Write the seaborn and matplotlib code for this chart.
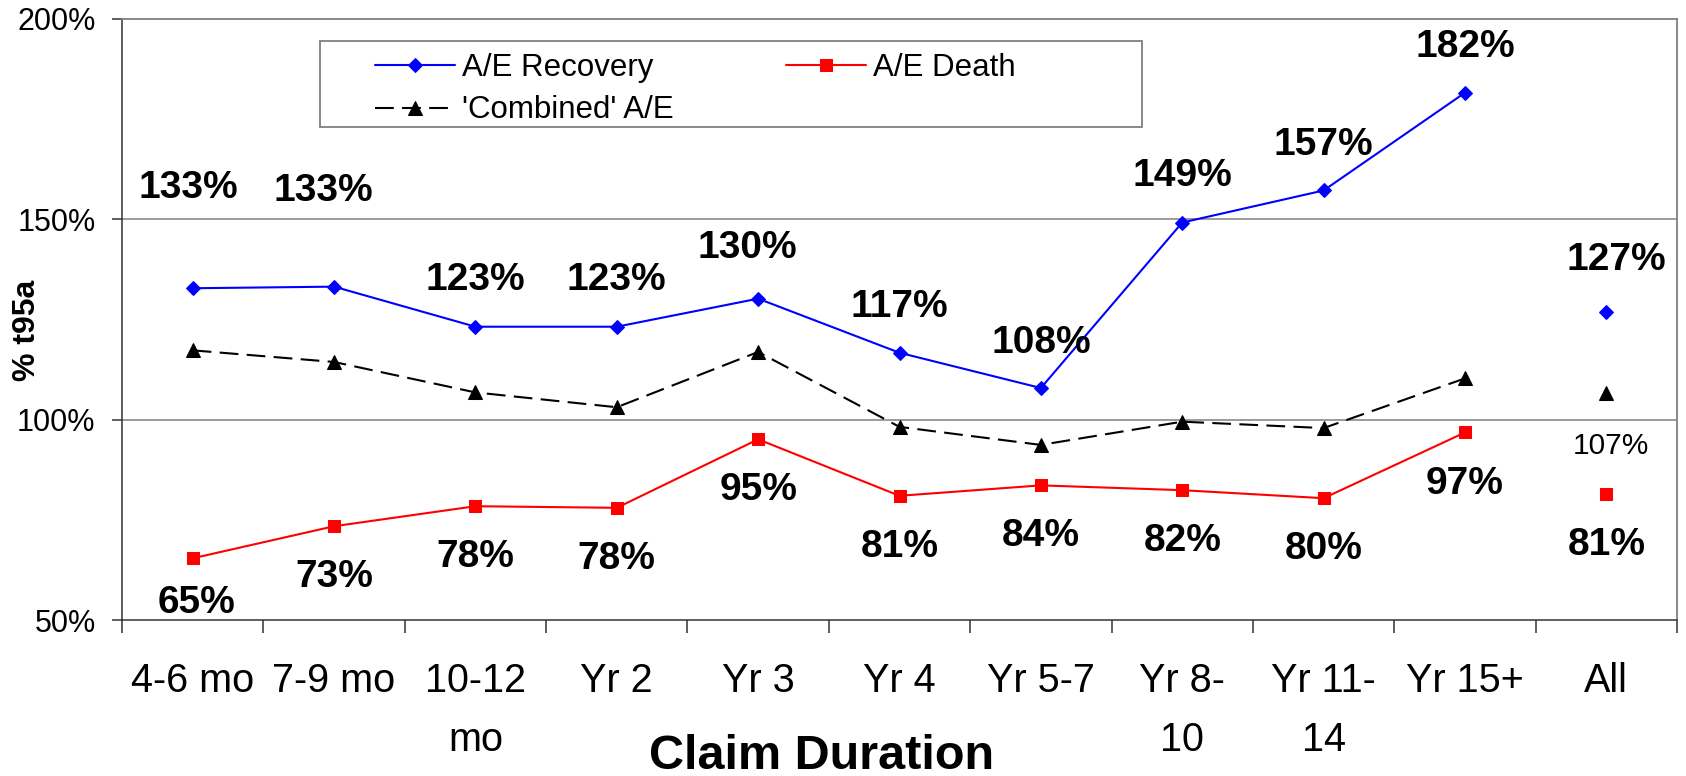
import numpy as np
import pandas as pd
import matplotlib
matplotlib.use("Agg")
import matplotlib.pyplot as plt
import seaborn as sns
from matplotlib.patches import Rectangle
from matplotlib.ticker import FixedLocator, FuncFormatter

# ---- data -------------------------------------------------------------
durations = ["4-6 mo", "7-9 mo", "10-12\nmo", "Yr 2", "Yr 3", "Yr 4",
             "Yr 5-7", "Yr 8-\n10", "Yr 11-\n14", "Yr 15+", "All"]
ae_recovery = [132.8, 133.2, 123.2, 123.2, 130.2, 116.7, 107.9, 149.2, 157.2, 181.6, 126.9]
ae_death = [65.4, 73.4, 78.4, 78.0, 95.1, 81.0, 83.6, 82.4, 80.4, 96.8, 81.4]
ae_combined = [117.3, 114.4, 106.8, 103.1, 116.9, 98.2, 93.7, 99.5, 97.9, 110.3, 106.7]
y_ticks = [50, 100, 150, 200]

# label offsets (points) relative to each marker: (dx, dy)
recovery_label_offsets = [(-3, 65), (-8, 62), (0, 26.5), (0, 26.5), (-8, 29.5), (0, 25.5),
                          (0, 25), (0, 26.5), (0, 25.5), (0, 26), (7, 30)]
death_label_offsets = [(3, -39.5)] + [(0, -44)] * 10

# ---- styling ----------------------------------------------------------
sns.set_theme(style="white")
plt.rcParams["font.family"] = ["Liberation Sans", "DejaVu Sans"]
plt.rcParams.update({"text.color": "black", "axes.labelcolor": "black",
                     "xtick.color": "black", "ytick.color": "black"})

W, H = 1686, 776
fig = plt.figure(figsize=(W / 100, H / 100), dpi=100)
left, right, top, bottom = 122, 1677, 19, 620
ax = fig.add_axes([left / W, 1 - bottom / H, (right - left) / W, (bottom - top) / H])

x = np.arange(len(durations))
df = pd.DataFrame({"pos": x, "recovery": ae_recovery, "death": ae_death,
                   "combined": ae_combined})
trend = df.iloc[:-1]
overall = df.iloc[-1:]

series = [
    ("recovery", "A/E Recovery", "#0000FF", "D", 7.6, "-"),
    ("combined", "'Combined' A/E", "#000000", "^", 10, (0, (9, 4))),
    ("death", "A/E Death", "#FF0000", "s", 8.6, "-"),
]
handles = []
for col, name, color, marker, ms, ls in series:
    sns.lineplot(data=trend, x="pos", y=col, ax=ax, color=color, marker=marker,
                 markersize=ms, markeredgecolor=color, markerfacecolor=color,
                 linewidth=1.5, linestyle=ls, label=name, legend=False, zorder=3)
    handles.append(ax.lines[-1])
    sns.lineplot(data=overall, x="pos", y=col, ax=ax, color=color, marker=marker,
                 markersize=ms, markeredgecolor=color, markerfacecolor=color,
                 linestyle="none", legend=False, zorder=3)

# ---- value labels -----------------------------------------------------
for i, (v, (dx, dy)) in enumerate(zip(ae_recovery, recovery_label_offsets)):
    ax.annotate(f"{v:.0f}%", xy=(x[i], v), xytext=(dx, dy), textcoords="offset points",
                ha="center", va="baseline", fontsize=28, fontweight="bold", color="black")
for i, (v, (dx, dy)) in enumerate(zip(ae_death, death_label_offsets)):
    ax.annotate(f"{v:.0f}%", xy=(x[i], v), xytext=(dx, dy), textcoords="offset points",
                ha="center", va="baseline", fontsize=28, fontweight="bold", color="black")
ax.annotate(f"{ae_combined[-1]:.0f}%", xy=(x[-1], ae_combined[-1]), xytext=(3, -44.4),
            textcoords="offset points", ha="center", va="baseline", fontsize=21.5,
            color="black")

# ---- axes -------------------------------------------------------------
ax.set_xlim(-0.5, len(durations) - 0.5)
ax.set_ylim(y_ticks[0], y_ticks[-1])
ax.yaxis.set_major_locator(FixedLocator(y_ticks))
ax.yaxis.set_major_formatter(FuncFormatter(lambda v, p: f"{v:.0f}%"))
ax.set_xticks(x)
ax.set_xticklabels(durations, fontsize=28.5, linespacing=1.7)
ax.set_xticks(np.arange(-0.5, len(durations)), minor=True)
ax.tick_params(axis="x", which="major", length=0, pad=30, colors="black")
ax.tick_params(axis="x", which="minor", length=9, width=1.1, color="#333333", direction="out")
ax.tick_params(axis="y", which="major", length=7, width=1.1, color="#333333",
               direction="out", pad=12, labelsize=22, labelcolor="black")
ax.tick_params(bottom=True, left=True, which="both")
ax.set_xlabel("")
ax.set_ylabel("")

ax.grid(False)
ax.set_axisbelow(True)
for yv in y_ticks[1:-1]:
    ax.axhline(yv, color="#808080", linewidth=1.1, zorder=1)

for side in ("left", "bottom"):
    ax.spines[side].set_color("#333333")
    ax.spines[side].set_linewidth(1.1)
for side in ("top", "right"):
    ax.spines[side].set_color("#808080")
    ax.spines[side].set_linewidth(1.3)

fig.text(822 / W, 1 - 769 / H, "Claim Duration", ha="center", va="baseline",
         fontsize=35, fontweight="bold", color="black")
fig.text(27 / W, 1 - 330 / H, "% t95a", ha="center", va="center", rotation=90,
         fontsize=23, fontweight="bold", color="black")

# ---- legend -----------------------------------------------------------
fig.patches.append(Rectangle((320 / W, 1 - 127 / H), (1142 - 320) / W, (127 - 41) / H,
                             transform=fig.transFigure, fill=False,
                             edgecolor="#808080", linewidth=1.3))
fig.legend(handles=handles, labels=[h.get_label() for h in handles], ncol=2,
           loc="upper left", bbox_to_anchor=(375 / W, 1 - 53 / H),
           bbox_transform=fig.transFigure, frameon=False, borderpad=0,
           fontsize=22.5, handlelength=2.55, handletextpad=0.23,
           columnspacing=3.6, labelspacing=0.40, borderaxespad=0)

fig.savefig("out.png", dpi=100)
